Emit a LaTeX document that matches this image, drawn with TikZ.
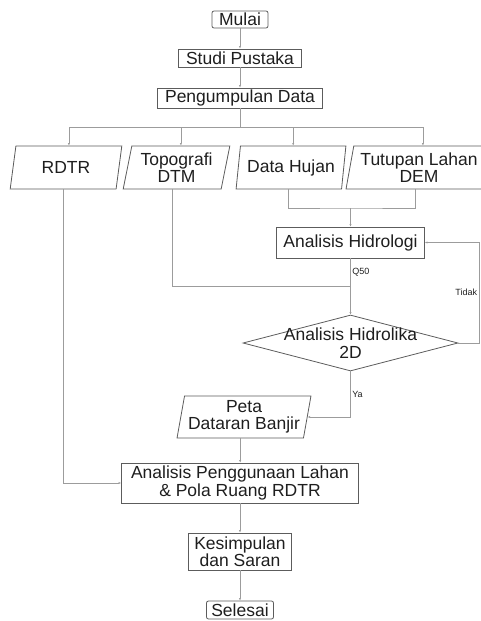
\documentclass[tikz,border=0pt]{standalone}
\usepackage{fontspec}
\setmainfont{Liberation Sans}
\usetikzlibrary{%
  arrows.meta,%
  calc,%
  shapes.geometric%
}
\definecolor{garis}{HTML}{9C9C9C}
\definecolor{tepi}{HTML}{5C5C5C}
\definecolor{huruf}{HTML}{1E1E1E}
\tikzset{>={Latex[length=2.5pt,width=2.2pt]}}
\tikzset{kotak/.style = {draw=tepi, line width=0.8pt, text=huruf, align=center,
	    inner sep=0pt, font=\fontsize{17.5}{17.5}\selectfont},%
		ujung/.style = {kotak, rounded corners=2pt},%
		data/.style = {kotak, trapezium, trapezium left angle=77,
	    trapezium right angle=103, trapezium stretches=true, minimum height=43pt},%
		pilih/.style = {kotak, diamond, aspect=3.84, inner xsep=-30pt, inner ysep=-5pt},%
		alur/.style = {draw=garis, line width=0.8pt},%
		ket/.style = {text=huruf, font=\fontsize{9}{9}\selectfont, inner sep=1.5pt}}

\begin{document}
\begin{tikzpicture}[x=1pt,y=-1pt]
    \useasboundingbox (0,0) rectangle (480,621);
    \node[ujung, minimum width=56pt, minimum height=17pt] (mulai) at (240,19.5) {Mulai};
    \node[kotak, minimum width=123pt, minimum height=18pt] (studi) at (240,58) {Studi Pustaka};
    \node[kotak, minimum width=165pt, minimum height=20pt] (kumpul) at (240,98) {Pengumpulan Data};
    \node[data, minimum width=112pt] (rdtr) at (66,167.5) {RDTR};
    \node[data, minimum width=107pt] (topo) at (176.5,167.5) {Topografi\\DTM};
    \node[data, minimum width=110pt] (hujan) at (291,167.5) {Data Hujan};
    \node[data, minimum width=146pt] (tutup) at (419,167.5) {Tutupan Lahan\\DEM};
    \node[kotak, minimum width=148pt, minimum height=31pt] (hidro) at (350.5,242.5) {Analisis Hidrologi};
    \node[pilih, minimum width=215pt, minimum height=56pt] (hidrolika) at (350.5,343) {Analisis Hidrolika\\2D};
    \node[data, trapezium left angle=78, trapezium right angle=102,
      minimum width=134pt, minimum height=42pt] (peta) at (244,417) {Peta\\Dataran Banjir};
    \node[kotak, minimum width=237pt, minimum height=40pt] (guna) at (240,483) {Analisis Penggunaan Lahan\\\& Pola Ruang RDTR};
    \node[kotak, minimum width=103pt, minimum height=37pt] (simpul) at (240,551.5) {Kesimpulan\\dan Saran};
    \node[ujung, minimum width=67pt, minimum height=18pt] (selesai) at (240,610) {Selesai};

    \coordinate (cabang) at (240,127);
    \coordinate (gabung) at (350.5,208);
    \coordinate (temu) at (350.5,286);
    \coordinate (balik) at (479,343);

    \draw[alur,->] (mulai) -- (studi);
    \draw[alur,->] (studi) -- (kumpul);
    \draw[alur] (kumpul) -- (cabang);
    \foreach \n in {rdtr,topo,hujan,tutup}
      \draw[alur,->] (cabang) -| (\n.top side);
    \draw[alur,->] (rdtr.bottom side) |- (guna);
    \draw[alur] (topo.bottom side) |- (temu);
    \draw[alur] (hujan.bottom side) |- (gabung) -| (tutup.bottom side);
    \draw[alur,->] (gabung) -- (hidro);
    \draw[alur,->] (hidro) -- node[ket,pos=0.25,right] {Q50} (hidrolika);
    \draw[alur,->] (hidrolika) -- (balik) |- node[ket,pos=0.25,left] {Tidak} (hidro);
    \draw[alur,->] (hidrolika) |- node[ket,pos=0.25,right] {Ya} (peta.right side);
    \draw[alur,->] (peta.bottom side) -- (peta.bottom side |- guna.north);
    \draw[alur,->] (guna) -- (simpul);
    \draw[alur,->] (simpul) -- (selesai);
  \end{tikzpicture}
\end{document}
